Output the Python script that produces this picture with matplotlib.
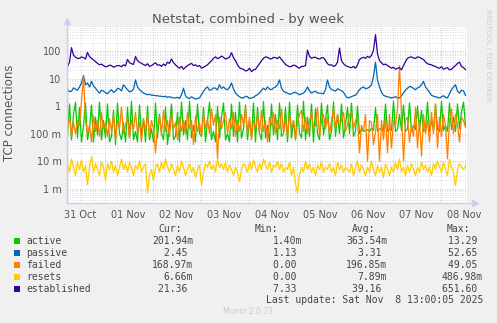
import matplotlib
matplotlib.use("Agg")
import matplotlib.pyplot as plt
from matplotlib.lines import Line2D
from datetime import datetime, timedelta

# ---------------- data (hourly samples) ----------------
start = datetime(2025, 10, 31, 5, 30)
n_points = 200
times = [start + timedelta(hours=i) for i in range(n_points)]

established = [
    28, 40, 135, 72, 60, 55, 55, 62, 58, 52,
    90, 64, 55, 48, 42, 36, 32, 34, 30, 27,
    28, 31, 30, 26, 28, 30, 30, 27, 32, 29,
    50, 38, 35, 33, 64, 45, 40, 36, 33, 30,
    35, 28, 30, 34, 38, 31, 32, 28, 34, 30,
    40, 36, 52, 38, 32, 27, 24, 28, 22, 26,
    30, 33, 36, 30, 32, 28, 30, 24, 26, 29,
    32, 38, 45, 55, 62, 54, 58, 66, 60, 52,
    55, 60, 88, 58, 45, 32, 25, 23, 22, 19,
    20, 24, 18, 21, 22, 28, 35, 45, 55, 62,
    60, 54, 52, 60, 58, 54, 62, 50, 40, 33,
    30, 27, 28, 31, 30, 26, 24, 28, 28, 30,
    110, 65, 55, 60, 60, 54, 52, 58, 58, 46,
    35, 31, 32, 28, 30, 40, 130, 45, 35, 30,
    28, 26, 25, 28, 24, 32, 50, 56, 60, 55,
    65, 58, 70, 110, 400, 80, 45, 38, 32, 34,
    30, 27, 24, 26, 22, 24, 25, 21, 30, 42,
    55, 60, 62, 56, 55, 62, 60, 54, 50, 40,
    35, 33, 32, 29, 28, 25, 24, 27, 22, 24,
    25, 21, 22, 26, 30, 36, 40, 28, 25, 21.36,
]

passive = [
    4, 3.4, 3.5, 4.6, 4.2, 3.8, 5, 7, 13, 6,
    7, 5, 8, 5.5, 4.5, 3.6, 3, 3.8, 3.5, 3.1,
    2.8, 3.4, 4, 3.2, 3.5, 4.5, 4.2, 3.6, 6, 4.8,
    4, 3.3, 3.5, 4.2, 9, 5, 4, 3.4, 3, 2.8,
    2.6, 2.7, 2.5, 2.5, 2.4, 2.4, 2.3, 2.3, 2.2, 2.3,
    2.1, 2.2, 2.1, 2.0, 2.0, 2.1, 1.9, 2.6, 4.5, 2.4,
    2.0, 1.9, 2.2, 2.0, 1.8, 1.9, 2.0, 2.6, 3.5, 4.4,
    5, 3.8, 4, 4.6, 4.5, 3.9, 6, 4.4, 5, 4.2,
    4, 4.8, 7, 4.2, 3, 2.5, 2.2, 2.0, 2.0, 2.3,
    2.2, 1.9, 2.0, 2.1, 2.4, 2.6, 3, 3.8, 4.5, 3.9,
    5, 4.2, 4, 4.6, 5, 6, 9, 4.5, 3.5, 3.2,
    3, 2.7, 2.8, 3.1, 3.2, 2.9, 2.6, 2.8, 3, 3.6,
    5, 3.6, 3, 3.3, 3.5, 3.0, 3, 2.9, 2.8, 4,
    9, 5, 4, 3.8, 3.5, 4.3, 4, 3.6, 3.2, 2.4,
    2, 2.1, 2.2, 2.4, 2.5, 3.1, 4, 4.6, 5, 4.3,
    4.5, 5, 6, 12, 40, 9, 5, 3.2, 2.5, 2.3,
    2.2, 2.1, 2.0, 2.1, 2.2, 2.0, 2.0, 2.4, 3, 3.8,
    4.5, 5.2, 5, 4.4, 4, 4.6, 5, 6, 8, 5,
    4, 3.2, 2.5, 2.3, 2.2, 2.1, 2.0, 2.2, 2.4, 2.1,
    2.0, 2.8, 4, 5, 6, 3.5, 3, 3.8, 3.6, 2.45,
]

active = [
    0.08, 1.2, 0.06, 0.5, 1.4, 0.07, 0.9, 0.05, 0.2, 1.3,
    0.06, 0.15, 1.1, 0.05, 0.4, 0.09, 1.4, 0.06, 0.3, 0.07,
    1.2, 0.05, 0.08, 0.7, 0.04, 1.3, 0.1, 0.06, 0.25, 0.05,
    0.9, 0.07, 1.5, 0.06, 0.12, 0.05, 1.1, 0.08, 0.35, 0.05,
    1.0, 0.06, 0.15, 0.05, 1.3, 0.07, 0.5, 0.1, 0.06, 0.9,
    0.04, 0.2, 1.2, 0.06, 0.08, 0.6, 0.05, 1.4, 0.09, 0.3,
    0.06, 1.5, 0.07, 0.2, 0.05, 1.2, 0.1, 0.08, 0.9, 0.05,
    0.3, 1.4, 0.06, 0.12, 0.05, 1.0, 0.07, 0.4, 1.3, 0.06,
    0.1, 0.05, 1.2, 0.08, 0.6, 0.05, 1.4, 0.07, 0.15, 1.1,
    0.06, 0.3, 0.08, 1.3, 0.05, 0.9, 0.1, 0.06, 1.5, 0.07,
    0.2, 0.05, 1.2, 0.09, 0.5, 0.06, 1.3, 0.08, 0.1, 0.9,
    0.05, 1.4, 0.07, 0.3, 0.06, 1.1, 0.1, 0.07, 1.5, 0.06,
    0.4, 0.08, 1.2, 0.05, 0.8, 0.1, 0.06, 1.3, 0.09, 0.3,
    1.1, 0.06, 0.12, 1.4, 0.08, 0.5, 0.1, 1.2, 0.07, 0.2,
    0.9, 0.1, 1.3, 0.08, 0.12, 1.0, 0.1, 0.15, 0.12, 0.13,
    0.14, 0.12, 0.16, 0.13, 0.9, 0.12, 0.15, 0.14, 0.13, 1.2,
    0.12, 0.15, 0.13, 1.5, 0.12, 0.14, 0.5, 0.13, 1.1, 0.12,
    0.15, 1.3, 0.12, 0.2, 0.14, 1.0, 0.13, 0.7, 0.12, 0.15,
    1.4, 0.12, 0.3, 0.13, 1.2, 0.14, 0.12, 1.5, 0.13, 0.2,
    0.12, 1.3, 0.14, 0.4, 0.12, 1.2, 0.15, 0.6, 1.4, 0.2,
]

failed = [
    0.15, 0.4, 0.08, 0.25, 0.1, 0.3, 0.2, 1.5, 12, 0.3,
    0.1, 0.2, 0.05, 0.45, 0.12, 0.3, 0.08, 0.6, 0.15, 0.25,
    0.08, 0.35, 0.12, 0.5, 0.06, 0.3, 0.15, 0.9, 0.1, 0.2,
    0.4, 0.07, 0.3, 0.15, 0.6, 0.1, 0.25, 0.05, 0.35, 0.12,
    0.5, 0.08, 0.3, 0.15, 0.02, 0.2, 0.4, 0.1, 0.7, 0.12,
    0.3, 0.08, 0.5, 0.15, 0.25, 0.06, 0.4, 0.12, 0.3, 0.1,
    0.6, 0.15, 0.3, 0.04, 0.45, 0.12, 0.25, 0.08, 0.5, 0.15,
    0.35, 0.1, 0.8, 0.2, 0.5, 0.012, 0.4, 0.15, 0.3, 0.6,
    0.1, 0.35, 0.15, 0.6, 0.08, 0.3, 0.12, 0.5, 0.2, 0.9,
    0.1, 0.4, 0.06, 0.3, 0.15, 0.5, 0.1, 0.7, 0.12, 0.3,
    0.05, 0.4, 0.2, 0.6, 0.1, 0.3, 0.15, 0.8, 0.1, 0.35,
    0.08, 0.5, 0.15, 0.3, 0.06, 0.25, 0.5, 0.7, 0.12, 0.4,
    0.1, 0.3, 0.6, 0.15, 0.2, 0.9, 0.08, 0.3, 0.5, 0.15,
    0.4, 0.1, 0.3, 0.8, 0.15, 0.5, 0.2, 0.3, 0.6, 0.12,
    0.2, 0.5, 0.6, 0.15, 0.3, 0.4, 0.02, 0.2, 0.12, 0.5,
    0.01, 0.3, 0.25, 0.04, 0.12, 0.5, 0.01, 0.3, 0.06, 0.4,
    0.02, 0.5, 0.03, 0.3, 0.2, 0.8, 30, 0.5, 0.01, 0.3,
    0.4, 0.05, 0.2, 0.08, 0.9, 0.03, 0.3, 0.015, 0.5, 0.1,
    0.3, 0.05, 0.6, 0.1, 1.2, 0.03, 0.4, 0.08, 0.5, 0.2,
    0.012, 0.3, 0.8, 0.1, 0.5, 0.2, 0.05, 0.4, 0.3, 0.17,
]

resets = [
    0.008, 0.004, 0.012, 0.006, 0.003, 0.009, 0.005, 0.011, 0.004, 0.007,
    0.0014, 0.006, 0.015, 0.004, 0.008, 0.005, 0.003, 0.009, 0.006, 0.002,
    0.008, 0.005, 0.01, 0.004, 0.007, 0.003, 0.006, 0.012, 0.005, 0.008,
    0.004, 0.009, 0.006, 0.003, 0.007, 0.005, 0.01, 0.004, 0.006, 0.008,
    0.0007, 0.003, 0.005, 0.002, 0.006, 0.008, 0.004, 0.009, 0.005, 0.012,
    0.006, 0.004, 0.008, 0.005, 0.003, 0.007, 0.004, 0.01, 0.006, 0.003,
    0.005, 0.008, 0.004, 0.006, 0.0025, 0.005, 0.007, 0.0013, 0.004, 0.008,
    0.006, 0.01, 0.005, 0.007, 0.004, 0.012, 0.006, 0.008, 0.005, 0.009,
    0.004, 0.007, 0.005, 0.003, 0.006, 0.004, 0.0018, 0.005, 0.008, 0.006,
    0.004, 0.009, 0.005, 0.011, 0.006, 0.004, 0.008, 0.005, 0.012, 0.007,
    0.005, 0.009, 0.004, 0.007, 0.006, 0.01, 0.005, 0.008, 0.004, 0.006,
    0.005, 0.009, 0.003, 0.006, 0.0015, 0.0007, 0.003, 0.006, 0.004, 0.01,
    0.005, 0.008, 0.004, 0.006, 0.003, 0.007, 0.005, 0.009, 0.004, 0.006,
    0.005, 0.008, 0.004, 0.006, 0.003, 0.009, 0.005, 0.007, 0.004, 0.006,
    0.005, 0.004, 0.008, 0.003, 0.006, 0.01, 0.004, 0.007, 0.005, 0.003,
    0.006, 0.004, 0.01, 0.005, 0.003, 0.007, 0.004, 0.006, 0.0025, 0.008,
    0.005, 0.003, 0.006, 0.004, 0.009, 0.005, 0.012, 0.004, 0.006, 0.003,
    0.007, 0.004, 0.008, 0.005, 0.003, 0.006, 0.004, 0.009, 0.005, 0.007,
    0.004, 0.006, 0.003, 0.008, 0.005, 0.01, 0.006, 0.004, 0.009, 0.005,
    0.003, 0.012, 0.006, 0.004, 0.0013, 0.005, 0.008, 0.006, 0.005, 0.0067,
]

series_names = ["active", "passive", "failed", "resets", "established"]
series_colors = ["#00CC00", "#0066B3", "#FF8000", "#FFCC00", "#330099"]
series_values = [active, passive, failed, resets, established]

cur_vals = ["201.94m", "2.45 ", "168.97m", "6.66m", "21.36 "]
min_vals = ["1.40m", "1.13 ", "0.00 ", "0.00 ", "7.33 "]
avg_vals = ["363.54m", "3.31 ", "196.85m", "7.89m", "39.16 "]
max_vals = ["13.29 ", "52.65 ", "49.05 ", "486.98m", "651.60 "]

ytick_vals = [1e-3, 1e-2, 1e-1, 1, 10, 100]
ytick_labels = ["1 m", "10 m", "100 m", "1", "10", "100"]
day_labels = ["31 Oct", "01 Nov", "02 Nov", "03 Nov", "04 Nov",
              "05 Nov", "06 Nov", "07 Nov", "08 Nov"]

# ---------------- figure ----------------
W, H = 497, 323
fig = plt.figure(figsize=(W / 100, H / 100), dpi=100, facecolor="#F0F0F0")
L, R, T, B = 67, 467, 27, 203
ax = fig.add_axes([L / W, 1 - B / H, (R - L) / W, (B - T) / H])
ax.set_facecolor("white")
ax.set_yscale("log")
ax.set_ylim(3.0e-4, 10 ** 2.88)
x0 = datetime(2025, 10, 31, 5, 15)
x1 = datetime(2025, 11, 8, 13, 15)
ax.set_xlim(x0, x1)

# grid
for d in range(-4, 3):
    for k in range(1, 10):
        y = k * 10.0 ** d
        if 3.0e-4 < y < 10 ** 2.88:
            if k == 1:
                ax.axhline(y, color="#E7A4A4", lw=0.6, ls=(0, (1, 2)), zorder=0)
            else:
                ax.axhline(y, color="#CFCFCF", lw=0.6, ls=(0, (1, 2)), zorder=0)
g = datetime(2025, 10, 31, 6, 0)
while g < x1:
    col = "#E7A4A4" if g.hour == 0 else "#CFCFCF"
    ax.axvline(g, color=col, lw=0.6, ls=(0, (1, 2)), zorder=0)
    g += timedelta(hours=6)

for name, col, vals in zip(series_names, series_colors, series_values):
    ax.plot(times, vals, color=col, lw=0.9, zorder=2)

ax.set_yticks(ytick_vals)
ax.set_yticklabels(ytick_labels)
ax.yaxis.set_minor_locator(matplotlib.ticker.NullLocator())
noon = [datetime(2025, 10, 31, 12) + timedelta(days=i) for i in range(len(day_labels))]
ax.set_xticks(noon)
ax.set_xticklabels(day_labels)
ax.tick_params(axis="both", length=0, labelsize=7, colors="#555555", pad=4)
ax.tick_params(axis="x", pad=5)
for s in ["top", "right", "left", "bottom"]:
    ax.spines[s].set_visible(False)

# axis lines with arrows
axis_col = "#C8D0F4"
fig.add_artist(Line2D([L / W, L / W], [1 - B / H, 1 - 22 / H], color=axis_col, lw=1.0))
fig.add_artist(Line2D([L / W, 474 / W], [1 - B / H, 1 - B / H], color=axis_col, lw=1.0))
fig.add_artist(Line2D([L / W], [1 - 21 / H], marker="^", ms=4, color=axis_col, ls=""))
fig.add_artist(Line2D([475 / W], [1 - B / H], marker=">", ms=4, color=axis_col, ls=""))

# texts
fig.text(0.5, 1 - 19 / H, "Netstat, combined - by week", ha="center", va="center",
         fontsize=9.5, color="#555555")
fig.text(10 / W, 1 - 113 / H, "TCP connections", rotation=90, ha="center", va="center",
         fontsize=8.5, color="#555555")
fig.text(488 / W, 1 - 55 / H, "RRDTOOL / TOBI OETIKER", rotation=270, ha="center",
         va="center", fontsize=5.2, color="#CCCCCC")

mono = dict(family="DejaVu Sans Mono", fontsize=7, color="#444444", va="center")
hy = 1 - 229 / H
fig.text(158 / W, hy, "Cur:", ha="left", **mono)
fig.text(255 / W, hy, "Min:", ha="left", **mono)
fig.text(352 / W, hy, "Avg:", ha="left", **mono)
fig.text(447 / W, hy, "Max:", ha="left", **mono)
for i, (name, col) in enumerate(zip(series_names, series_colors)):
    yy = 241 + 12 * i
    fy = 1 - yy / H
    fig.patches.append(plt.Rectangle((14 / W, 1 - (yy + 3) / H), 6 / W, 6 / H,
                                     transform=fig.transFigure, facecolor=col,
                                     edgecolor="none"))
    fig.text(26 / W, fy, name, ha="left", **mono)
    fig.text(193 / W, fy, cur_vals[i], ha="right", **mono)
    fig.text(302 / W, fy, min_vals[i], ha="right", **mono)
    fig.text(387 / W, fy, avg_vals[i], ha="right", **mono)
    fig.text(483 / W, fy, max_vals[i], ha="right", **mono)
fig.text(483 / W, 1 - 300 / H, "Last update: Sat Nov  8 13:00:05 2025", ha="right", **mono)
fig.text(248 / W, 1 - 312 / H, "Munin 2.0.73", ha="center", va="center",
         fontsize=5.5, color="#CCCCCC")

fig.savefig("out.png", dpi=100, facecolor=fig.get_facecolor())
